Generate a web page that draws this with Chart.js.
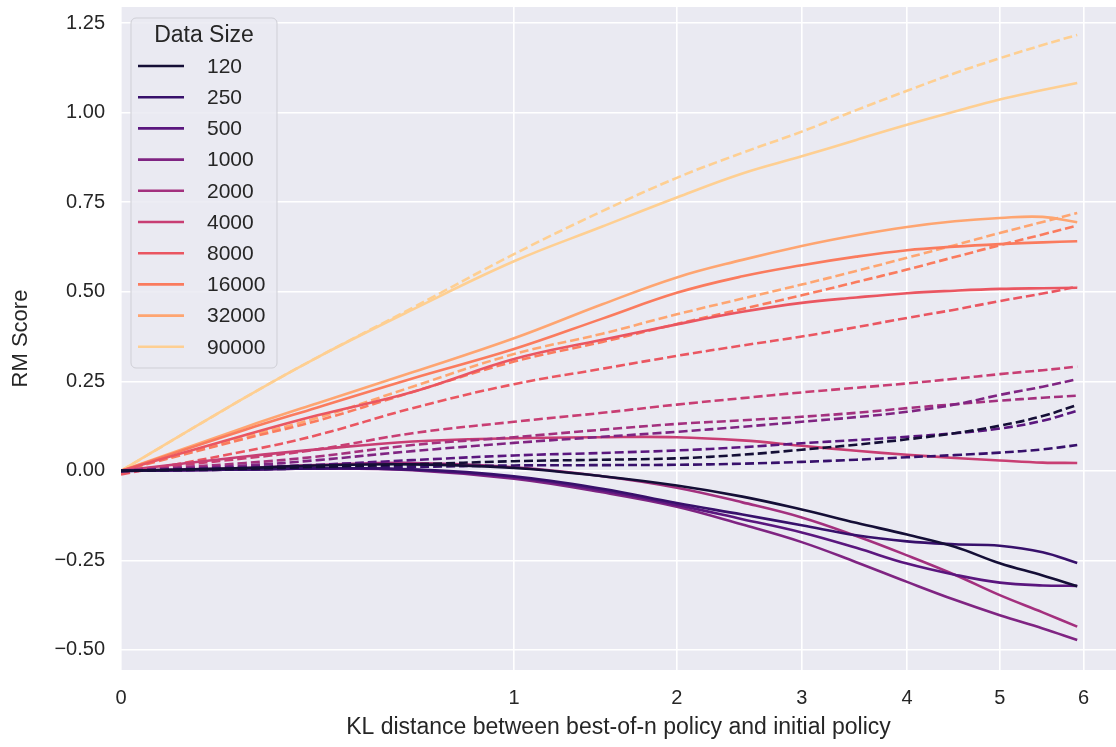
<!DOCTYPE html>
<html lang="en">

<head>
    <meta charset="UTF-8">
    <script src="https://cdn.jsdelivr.net/npm/chart.js@4.4.1/dist/chart.umd.min.js"></script>
    <title>RM Score vs KL</title>
    <style>
        body { margin: 0; background: #fff; }
    </style>
</head>

<body>
    <canvas id="myChart" width="1116" height="747"></canvas>
</body>

<script type='text/javascript'>

    // KL distance samples (x) shared by every curve
    const kl = [0, 0.1, 0.25, 0.55, 1, 1.5, 2, 2.5, 3, 3.5, 4, 4.5, 5, 5.5, 5.92]

    const dataSizes = ['120', '250', '500', '1000', '2000', '4000', '8000', '16000', '32000', '90000']
    const colors = ['#140e36', '#37106b', '#5a167e', '#7f2482', '#a3307e', '#c83e73', '#ea5661', '#fa7b5e', '#fea571', '#fecf92']

    const xTicks = [0, 1, 2, 3, 4, 5, 6]
    const yTicks = [-0.5, -0.25, 0, 0.25, 0.5, 0.75, 1, 1.25]

    // solid lines
    const solid120 = [0, 0.008, 0.015, 0.018, 0.008, -0.015, -0.041, -0.072, -0.108, -0.145, -0.178, -0.212, -0.258, -0.292, -0.322]
    const solid250 = [0, 0.004, 0.007, 0.004, -0.015, -0.05, -0.09, -0.122, -0.152, -0.18, -0.197, -0.205, -0.209, -0.227, -0.257]
    const solid500 = [0, 0.004, 0.007, 0.003, -0.018, -0.055, -0.095, -0.135, -0.172, -0.215, -0.259, -0.29, -0.312, -0.32, -0.321]
    const solid1000 = [0, 0.004, 0.007, 0.002, -0.022, -0.06, -0.1, -0.15, -0.199, -0.255, -0.31, -0.36, -0.403, -0.44, -0.472]
    const solid2000 = [0, 0.008, 0.016, 0.022, 0.01, -0.015, -0.047, -0.088, -0.13, -0.182, -0.236, -0.29, -0.347, -0.395, -0.435]
    const solid4000 = [0, 0.04, 0.06, 0.082, 0.091, 0.094, 0.094, 0.085, 0.07, 0.056, 0.045, 0.036, 0.029, 0.023, 0.022]
    const solid8000 = [0, 0.1, 0.155, 0.22, 0.312, 0.366, 0.409, 0.444, 0.469, 0.484, 0.496, 0.503, 0.508, 0.51, 0.511]
    const solid16000 = [0, 0.115, 0.177, 0.258, 0.34, 0.425, 0.497, 0.543, 0.574, 0.598, 0.616, 0.626, 0.633, 0.638, 0.641]
    const solid32000 = [0, 0.122, 0.189, 0.275, 0.37, 0.465, 0.54, 0.589, 0.628, 0.658, 0.681, 0.697, 0.706, 0.709, 0.694]
    const solid90000 = [0, 0.205, 0.317, 0.45, 0.585, 0.682, 0.763, 0.83, 0.878, 0.924, 0.966, 1.003, 1.037, 1.063, 1.083]

    // dashed lines
    const dashed120 = [0, 0.006, 0.011, 0.018, 0.027, 0.031, 0.035, 0.045, 0.059, 0.073, 0.088, 0.105, 0.126, 0.153, 0.184]
    const dashed250 = [0, 0.004, 0.007, 0.011, 0.015, 0.016, 0.017, 0.02, 0.025, 0.031, 0.038, 0.044, 0.051, 0.06, 0.072]
    const dashed500 = [0, 0.01, 0.017, 0.03, 0.043, 0.05, 0.057, 0.066, 0.077, 0.086, 0.095, 0.105, 0.118, 0.14, 0.168]
    const dashed1000 = [0, 0.015, 0.03, 0.055, 0.078, 0.095, 0.109, 0.123, 0.137, 0.15, 0.165, 0.185, 0.212, 0.235, 0.256]
    const dashed2000 = [0, 0.022, 0.04, 0.072, 0.094, 0.115, 0.131, 0.141, 0.151, 0.162, 0.175, 0.186, 0.196, 0.204, 0.21]
    const dashed4000 = [0, 0.035, 0.06, 0.105, 0.137, 0.162, 0.185, 0.203, 0.219, 0.232, 0.244, 0.257, 0.27, 0.281, 0.291]
    const dashed8000 = [-0.01, 0.055, 0.1, 0.175, 0.242, 0.285, 0.321, 0.35, 0.375, 0.401, 0.427, 0.45, 0.474, 0.495, 0.514]
    const dashed16000 = [0, 0.09, 0.14, 0.22, 0.305, 0.36, 0.41, 0.452, 0.49, 0.527, 0.562, 0.597, 0.63, 0.66, 0.685]
    const dashed32000 = [0, 0.095, 0.148, 0.235, 0.326, 0.383, 0.437, 0.481, 0.52, 0.558, 0.595, 0.63, 0.664, 0.695, 0.72]
    const dashed90000 = [0, 0.205, 0.317, 0.455, 0.605, 0.725, 0.818, 0.888, 0.947, 1.007, 1.061, 1.11, 1.152, 1.189, 1.217]

    const solidSeries = [solid120, solid250, solid500, solid1000, solid2000, solid4000, solid8000, solid16000, solid32000, solid90000]
    const dashedSeries = [dashed120, dashed250, dashed500, dashed1000, dashed2000, dashed4000, dashed8000, dashed16000, dashed32000, dashed90000]

    const FONT = '"Liberation Sans", Arial, sans-serif'
    const TEXT = '#262626'

    // square-root x axis, like matplotlib's 'function' scale with sqrt
    class SqrtScale extends Chart.LinearScale {
        getPixelForValue(value) {
            const a = Math.sqrt(Math.max(this.min, 0)), b = Math.sqrt(this.max)
            return this.getPixelForDecimal((Math.sqrt(Math.max(value, 0)) - a) / (b - a))
        }
        getValueForPixel(pixel) {
            const a = Math.sqrt(Math.max(this.min, 0)), b = Math.sqrt(this.max)
            const s = a + this.getDecimalForPixel(pixel) * (b - a)
            return s * s
        }
    }
    SqrtScale.id = 'sqrt'
    SqrtScale.defaults = Chart.LinearScale.defaults
    Chart.register(SqrtScale)

    const datasets = []
    dataSizes.forEach((size, i) => {
        datasets.push({
            label: size,
            data: kl.map((x, j) => ({ x: x, y: solidSeries[i][j] })),
            borderColor: colors[i],
            borderWidth: 2.6,
            pointRadius: 0,
            tension: 0.4
        })
        datasets.push({
            label: size + ' (dashed)',
            data: kl.map((x, j) => ({ x: x, y: dashedSeries[i][j] })),
            borderColor: colors[i],
            borderWidth: 2.6,
            borderDash: [9, 4],
            pointRadius: 0,
            tension: 0.4
        })
    })

    const background = {
        id: 'background',
        beforeDraw(chart) {
            const { ctx, chartArea: { left, top, width, height } } = chart
            ctx.save()
            ctx.fillStyle = '#ffffff'
            ctx.fillRect(0, 0, chart.width, chart.height)
            ctx.fillStyle = '#eaeaf2'
            ctx.fillRect(left, top, width, height)
            ctx.restore()
        }
    }

    const legendBox = {
        id: 'legendBox',
        afterDatasetsDraw(chart) {
            const { ctx, chartArea } = chart
            const x0 = chartArea.left + 10, y0 = chartArea.top + 11
            ctx.save()
            ctx.beginPath()
            ctx.roundRect(x0, y0, 146, 350, 5)
            ctx.fillStyle = 'rgba(234,234,242,0.85)'
            ctx.fill()
            ctx.strokeStyle = '#cfcfd6'
            ctx.lineWidth = 1
            ctx.stroke()
            ctx.fillStyle = TEXT
            ctx.textBaseline = 'middle'
            ctx.textAlign = 'center'
            ctx.font = '23px ' + FONT
            ctx.fillText('Data Size', x0 + 73, y0 + 18)
            ctx.textAlign = 'left'
            ctx.font = '21px ' + FONT
            dataSizes.forEach((size, i) => {
                const y = y0 + 48 + i * 31.2
                ctx.beginPath()
                ctx.moveTo(x0 + 7, y)
                ctx.lineTo(x0 + 53, y)
                ctx.strokeStyle = colors[i]
                ctx.lineWidth = 2.6
                ctx.stroke()
                ctx.fillText(size, x0 + 76, y + 1)
            })
            ctx.restore()
        }
    }

    const ctx = document.getElementById('myChart').getContext('2d')
    const chart = new Chart(ctx, {
        type: 'line',
        data: { datasets: datasets },
        plugins: [background, legendBox],
        options: {
            responsive: false,
            animation: false,
            layout: { padding: { top: 7, right: 0, left: 0, bottom: 0 } },
            plugins: {
                legend: { display: false },
                tooltip: { enabled: false }
            },
            scales: {
                x: {
                    type: 'sqrt',
                    min: 0,
                    max: 6.41,
                    afterBuildTicks: (scale) => { scale.ticks = xTicks.map(v => ({ value: v })) },
                    afterFit: (scale) => {
                        scale.height = 77
                        scale.paddingLeft = 0
                        scale.paddingRight = 0
                    },
                    ticks: {
                        callback: (v) => String(v),
                        font: { family: FONT, size: 20 },
                        color: TEXT,
                        padding: 16,
                        maxRotation: 0,
                        autoSkip: false
                    },
                    grid: { color: '#ffffff', lineWidth: 1.6, drawTicks: false },
                    border: { display: false },
                    title: {
                        display: true,
                        text: 'KL distance between best-of-n policy and initial policy',
                        font: { family: FONT, size: 23 },
                        color: TEXT,
                        padding: { top: 0, bottom: 6 }
                    }
                },
                y: {
                    min: -0.556,
                    max: 1.295,
                    afterBuildTicks: (scale) => { scale.ticks = yTicks.map(v => ({ value: v })) },
                    afterFit: (scale) => {
                        scale.width = 121
                        scale.paddingTop = 0
                        scale.paddingBottom = 0
                    },
                    ticks: {
                        callback: (v) => v.toFixed(2).replace('-', '\u2212'),
                        font: { family: FONT, size: 20 },
                        color: TEXT,
                        padding: 16
                    },
                    grid: { color: '#ffffff', lineWidth: 1.6, drawTicks: false },
                    border: { display: false },
                    title: {
                        display: true,
                        text: 'RM Score',
                        font: { family: FONT, size: 22 },
                        color: TEXT,
                        padding: { top: 8, bottom: 0 }
                    }
                }
            }
        }
    })

</script>

</html>
